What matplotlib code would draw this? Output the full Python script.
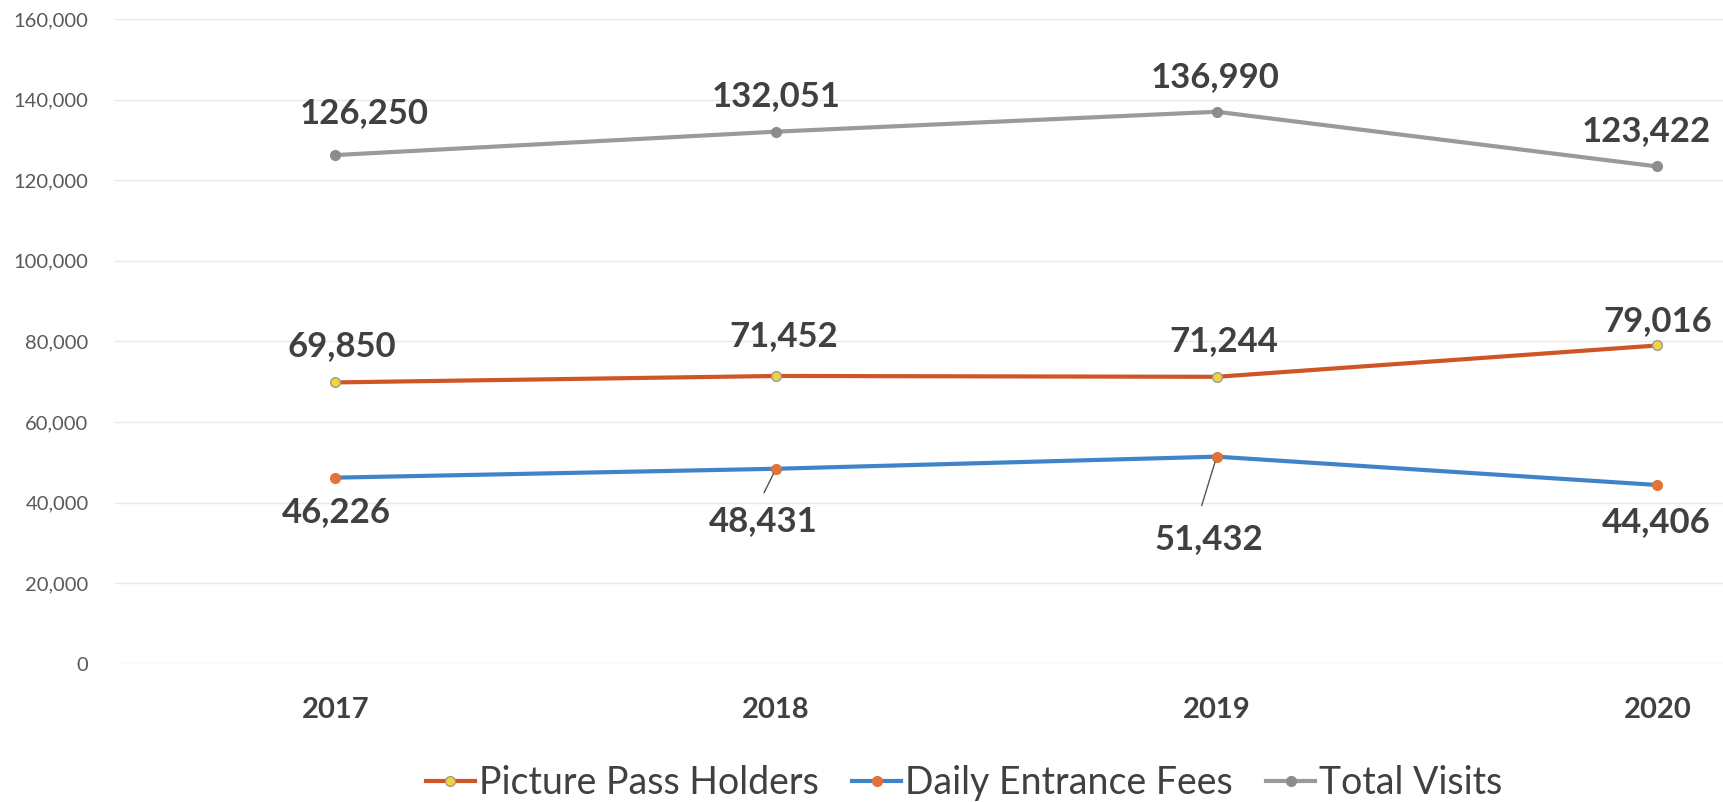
import numpy as np
import matplotlib
matplotlib.use('Agg')
import matplotlib.pyplot as plt

plt.rcParams['font.family'] = ['Lato', 'DejaVu Sans']

years = ['2017', '2018', '2019', '2020']
pass_holders = [69850, 71452, 71244, 79016]
daily_fees = [46226, 48431, 51432, 44406]
total_visits = [126250, 132051, 136990, 123422]

# label offsets in pixels (dx, dy) relative to each point
pass_offsets = [(6, 36), (8, 40), (7, 36), (0, 24)]
daily_offsets = [(1, -34), (-13, -52), (-8, -82), (-1, -37)]
total_offsets = [(29, 42), (0, 36), (-2, 35), (-11, 35)]

W, H = 1724, 802
fig = plt.figure(figsize=(W / 100, H / 100), dpi=100)
left, right = 115, 1724
top, bottom = 19, 664
ax = fig.add_axes([left / W, 1 - bottom / H, (right - left) / W, (bottom - top) / H])

x = np.arange(len(years))
slot = (1657 - 335) / 3
ax.set_xlim(-0.5, -0.5 + (right - left) / slot)
ax.set_ylim(0, 160000)
ax.set_yticks(np.arange(0, 160001, 20000))
ax.set_yticklabels(['{:,}'.format(v) for v in range(0, 160001, 20000)])
ax.set_xticks(x)
ax.set_xticklabels(years)

ax.grid(axis='y', color='#e8e8e8', linewidth=1)
ax.set_axisbelow(True)
for s in ax.spines.values():
    s.set_visible(False)
ax.tick_params(axis='y', length=0, pad=19, labelsize=14.5, labelcolor='#595959')
ax.tick_params(axis='x', length=0, pad=24, labelsize=21, labelcolor='#404040')
for t in ax.get_xticklabels():
    t.set_fontweight('bold')

l1, = ax.plot(x, pass_holders, color='#cf5426', lw=3, marker='o', ms=7,
              mfc='#f2d43a', mec='#9a9a9a', mew=1, label='Picture Pass Holders', zorder=3)
l2, = ax.plot(x, daily_fees, color='#3f84c8', lw=3, marker='o', ms=7,
              mfc='#e0733a', mec='#e0733a', label='Daily Entrance Fees', zorder=3)
l3, = ax.plot(x, total_visits, color='#9a9a9a', lw=3, marker='o', ms=7,
              mfc='#8c8c8c', mec='#8c8c8c', label='Total Visits', zorder=3)

def label(vals, offsets):
    for xi, v, (dx, dy) in zip(x, vals, offsets):
        ax.annotate('{:,}'.format(v), (xi, v), xytext=(dx, dy), textcoords='offset pixels',
                    ha='center', va='center', fontsize=25, fontweight='bold', color='#404040')

label(pass_holders, pass_offsets)
label(total_visits, total_offsets)
label(daily_fees, daily_offsets)

# leader lines for the two labels pushed further down
for i, (dx, dy) in [(1, (-12, -24)), (2, (-15, -49))]:
    ax.annotate('', (x[i], daily_fees[i]), xytext=(dx, dy), textcoords='offset pixels',
                arrowprops=dict(arrowstyle='-', color='#555555', lw=1, shrinkA=0, shrinkB=4))

fig.legend(handles=[l1, l2, l3], loc='center', bbox_to_anchor=(964 / W, 1 - 783 / H),
           ncol=3, frameon=False, fontsize=27, handlelength=1.3, handletextpad=0.1,
           columnspacing=0.9, labelcolor='#404040')

fig.savefig('out.png', dpi=100, facecolor='white')
